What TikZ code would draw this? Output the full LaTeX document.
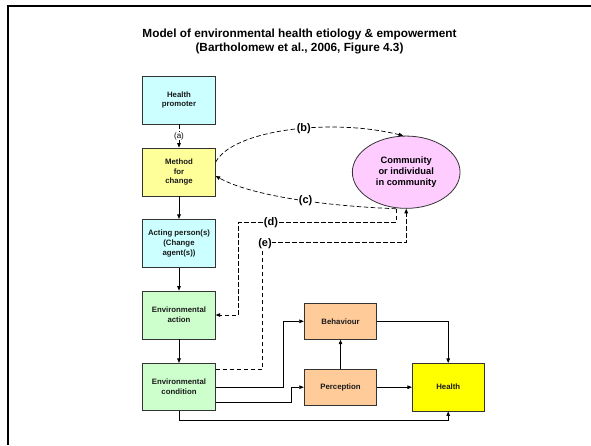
\documentclass[tikz,border=0pt]{standalone}
\usepackage{fontspec}
\setmainfont{Liberation Sans}
\usetikzlibrary{arrows.meta,shapes.geometric}
\definecolor{cyanbox}{HTML}{CCFFFF}
\definecolor{yellowbox}{HTML}{FFFF99}
\definecolor{greenbox}{HTML}{CCFFCC}
\definecolor{orangebox}{HTML}{FFCC99}
\definecolor{healthbox}{HTML}{FFFF00}
\definecolor{pinkbox}{HTML}{FFCCFF}
\definecolor{edge}{HTML}{333333}
\tikzset{
  box/.style={draw=edge, line width=0.8pt, rectangle, inner sep=1pt, align=center,
    minimum width=72.6pt, minimum height=48pt,
    font=\fontsize{7.8}{9.6}\selectfont\bfseries, text=black!90},
  arr/.style={draw=black, line width=0.7pt, -{Triangle[length=4.5pt,width=3.6pt]}},
  dashline/.style={draw=black, line width=0.7pt, dash pattern=on 4.5pt off 2.5pt},
  lbl/.style={fill=white, inner sep=0.6pt, font=\fontsize{11}{12}\selectfont\bfseries},
}
\begin{document}
\begin{tikzpicture}[x=1pt, y=-1pt]
\useasboundingbox (0,0) rectangle (591,445);

% slide frame
\draw[line width=2.2pt] (8,445) -- (8,5.8) -- (591,5.8);

% title
\node[align=center, font=\fontsize{11.8}{13.3}\selectfont\bfseries] (title) at (299.5,41.6)
  {Model of environmental health etiology \& empowerment\\(Bartholomew et al., 2006, Figure 4.3)};

% left column
\node[box, fill=cyanbox] (hp) at (179,100) {Health\\promoter};
\node[box, fill=yellowbox] (mfc) at (179,172) {Method\\for\\change};
\node[box, fill=cyanbox, minimum height=48.4pt] (act) at (179,243.5) {Acting person(s)\\(Change\\agent(s))};
\node[box, fill=greenbox] (ea) at (179,315) {Environmental\\action};
\node[box, fill=greenbox, minimum height=47.4pt] (ec) at (179,387) {Environmental\\condition};

% right group
\node[box, fill=orangebox, minimum height=36pt] (beh) at (340.5,321.3) {Behaviour};
\node[box, fill=orangebox, minimum height=35.7pt] (per) at (340.5,387.2) {Perception};
\node[box, fill=healthbox, minimum width=71.7pt, minimum height=47.7pt] (hl) at (448.2,387.2) {Health};

% community
\node[ellipse, draw=edge, line width=0.8pt, fill=pinkbox, minimum width=107.7pt, minimum height=72.3pt,
  inner sep=0pt, align=center, font=\fontsize{9.3}{10.7}\selectfont\bfseries] (comm) at (406.2,172.2)
  {Community\\or individual\\in community};

% (a)
\draw[arr, dashline] (hp.south) -- node[fill=white, inner sep=0.6pt, font=\fontsize{8}{9}\selectfont] (laba) {(a)} (mfc.north);

% solid chain
\draw[arr] (mfc.south) -- (act.north);
\draw[arr] (act.south) -- (ea.north);
\draw[arr] (ea.south) -- (ec.north);

% (b) and (c)
\draw[arr, dashline] ([yshift=10pt]mfc.east) .. controls +(17,-32) and +(-73,-18) .. ([xshift=-3pt]comm.north)
  node[lbl, pos=0.57] (labb) {(b)};
\coordinate (cd) at ([xshift=-10pt]comm.south);
\draw[arr, dashline] (cd) .. controls +(-76,-3) and +(34,19) .. ([yshift=-4pt]mfc.east)
  node[lbl, pos=0.42] (labc) {(c)};

% (d)
\coordinate (dcorner) at (238.7,222.2);
\draw[arr, dashline] (cd) |- (dcorner) |- (ea.east);
\node[lbl] (labd) at (271,222.2) {(d)};

% (e)
\coordinate (ecorner) at (262.7,242.7);
\draw[arr, dashline] ([yshift=17.7pt]ec.east) -| (ecorner) -| (comm.south);
\node[lbl] (labe) at (265,243.5) {(e)};

% determinants of health
\draw[arr] (ec.east) -| ([xshift=-20pt]beh.west) -- (beh.west);
\draw[arr] ([yshift=-15.3pt]ec.east) -| ([xshift=-12pt]per.west) -- (per.west);
\draw[arr] (per.north) -- (beh.south);
\draw[arr] (per.east) -- (hl.west);
\draw[arr] (beh.east) -| (hl.north);
\draw[arr] (ec.south) -- ([yshift=-9.3pt]ec.south) -| (hl.south);
\end{tikzpicture}
\end{document}
